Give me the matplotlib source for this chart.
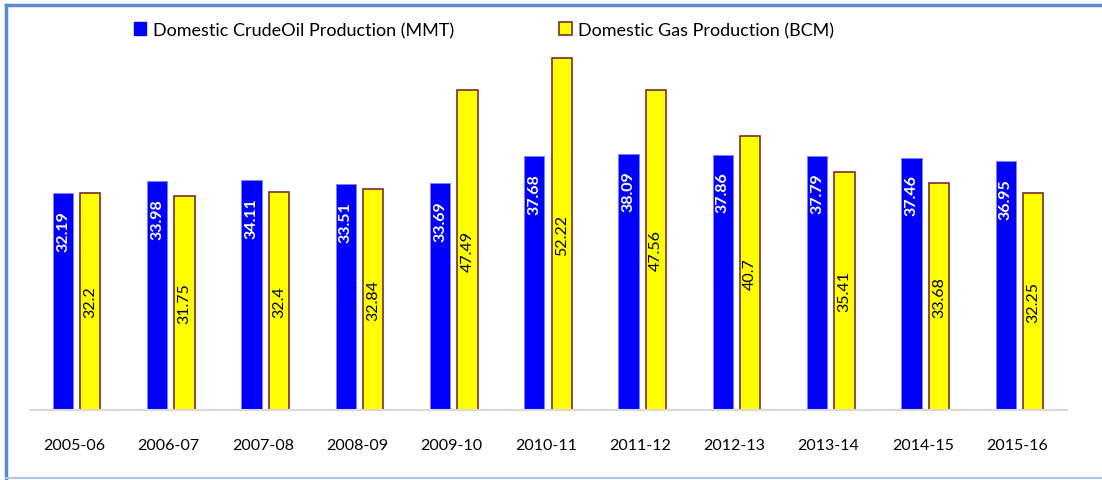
import matplotlib
matplotlib.use("Agg")
import matplotlib.pyplot as plt
from matplotlib.lines import Line2D
from matplotlib.patches import Patch
import numpy as np

years = ["2005-06", "2006-07", "2007-08", "2008-09", "2009-10", "2010-11",
         "2011-12", "2012-13", "2013-14", "2014-15", "2015-16"]
crude_oil = [32.19, 33.98, 34.11, 33.51, 33.69, 37.68, 38.09, 37.86, 37.79, 37.46, 36.95]
gas = [32.2, 31.75, 32.4, 32.84, 47.49, 52.22, 47.56, 40.7, 35.41, 33.68, 32.25]
crude_label = "Domestic CrudeOil Production (MMT)"
gas_label = "Domestic Gas Production (BCM)"

plt.rcParams['font.family'] = ['Lato', 'DejaVu Sans']

fig = plt.figure(figsize=(11.02, 4.81), dpi=100)
ax = fig.add_axes([30/1102, 1 - 411/481, (1067-30)/1102, (411-7)/481])

x = np.arange(len(years))
w = 0.215
off1, off2 = -0.15, 0.14
ax.bar(x + off1, crude_oil, width=w, color="#0000FF", edgecolor="#8080ff", linewidth=0.6, zorder=2)
ax.bar(x + off2, gas, width=w, color="#FFFF00", edgecolor="#7B2E2E", linewidth=1.2, zorder=2)

for xi, v in zip(x, crude_oil):
    ax.annotate(f"{v:g}", xy=(xi + off1, v), xytext=(0, -12), textcoords="offset points",
                rotation=90, ha="center", va="top", color="white", fontweight="bold", fontsize=11.5)
for xi, v in zip(x, gas):
    ax.text(xi + off2, v / 2, f"{v:g}", rotation=90, ha="center", va="center",
            color="black", fontsize=11.5)

ax.set_xlim(-0.5, len(years) - 0.5)
ax.set_ylim(0, 60)
ax.set_xticks(x - 0.03)
ax.set_xticklabels(years, fontsize=11.5)
ax.tick_params(axis="x", length=0, pad=20)
ax.set_yticks([])
for s in ["top", "right", "left"]:
    ax.spines[s].set_visible(False)
ax.spines["bottom"].set_color("#d9d9d9")
ax.spines["bottom"].set_linewidth(1.5)

handles = [Patch(facecolor="#0000FF", edgecolor="#0000FF", label=crude_label),
           Patch(facecolor="#FFFF00", edgecolor="#7B2E2E", linewidth=1.2, label=gas_label)]
fig.legend(handles=handles, loc="center", bbox_to_anchor=(484/1102, 1 - 31/481), ncol=2,
           frameon=False, fontsize=13, handlelength=0.7, handleheight=0.7,
           handletextpad=0.35, columnspacing=5.85)

# figure border
fig.add_artist(Line2D([6/1102, 1], [1 - 6/481, 1 - 6/481], transform=fig.transFigure, color="#5B8BC9", linewidth=2.5))
fig.add_artist(Line2D([6/1102, 6/1102], [1 - 6/481, 1 - 479/481], transform=fig.transFigure, color="#5B8BC9", linewidth=2.5))
fig.add_artist(Line2D([6/1102, 1], [1 - 479/481, 1 - 479/481], transform=fig.transFigure, color="#A9C4E6", linewidth=1.5))

fig.savefig("out.png", dpi=100)
